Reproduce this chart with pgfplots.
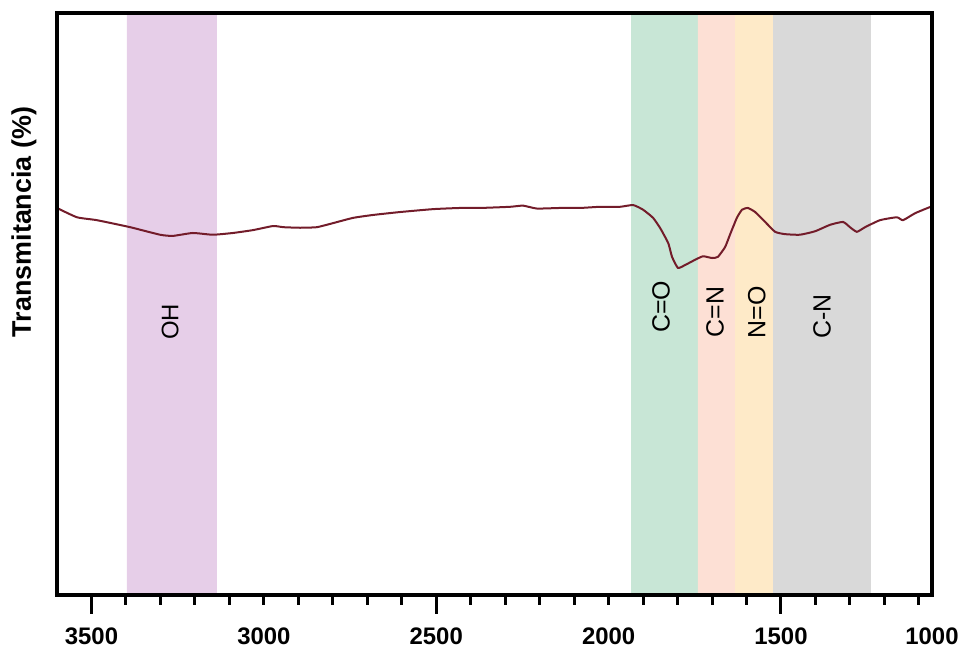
\documentclass[border=0pt]{standalone}
\usepackage{fontspec}
\setmainfont{Liberation Sans}
\usepackage{pgfplots}
\pgfplotsset{compat=1.18}
\definecolor{bandOH}{RGB}{230,206,232}
\definecolor{bandCO}{RGB}{200,230,214}
\definecolor{bandCN}{RGB}{253,224,213}
\definecolor{bandNO}{RGB}{254,234,200}
\definecolor{bandCsN}{RGB}{217,217,217}
\definecolor{spec}{RGB}{115,28,42}
\begin{document}
\begin{tikzpicture}
\path[use as bounding box] (0bp,0bp) rectangle (966bp,649bp);
\begin{axis}[
  at={(57bp,54bp)}, anchor=south west,
  scale only axis, width=875bp, height=582bp,
  x dir=reverse, xmin=1062, xmax=3600, ymin=0, ymax=100,
  axis on top,
  line width=3.2bp,
  axis line style={line width=3.2bp, black},
  ytick=\empty,
  xtick={3500,2500,1500},
  xticklabels={3500,2500,1500},
  xtick style={line width=3bp, black},
  major tick length=19bp,
  minor xtick={3400,3300,3200,3100,3000,2900,2800,2700,2600,2400,2300,2200,2100,2000,1900,1800,1700,1600,1400,1300,1200,1100},
  minor tick length=10bp,
  extra x ticks={3000,2000,1062},
  extra x tick labels={3000,2000,1000},
  extra x tick style={major tick length=19bp, major tick style={draw=none}},
  tick align=outside,
  xtick pos=bottom,
  xticklabel style={font=\fontsize{24}{24}\selectfont\bfseries, inner sep=0pt, yshift=-12bp},
  /pgf/number format/assume math mode=true,
]
\addplot[fill=bandOH, draw=none] coordinates {(3397,0) (3397,100) (3136,100) (3136,0)} \closedcycle;
\addplot[fill=bandCO, draw=none] coordinates {(1935,0) (1935,100) (1741,100) (1741,0)} \closedcycle;
\addplot[fill=bandCN, draw=none] coordinates {(1741,0) (1741,100) (1633,100) (1633,0)} \closedcycle;
\addplot[fill=bandNO, draw=none] coordinates {(1633,0) (1633,100) (1523,100) (1523,0)} \closedcycle;
\addplot[fill=bandCsN, draw=none] coordinates {(1523,0) (1523,100) (1239,100) (1239,0)} \closedcycle;
\addplot[spec, line width=2bp, smooth, tension=0.3] coordinates {
(3600,66.5) (3542,64.9) (3484,64.4) (3388,63.2) (3301,61.9) (3264,61.7) (3206,62.2)
(3148,61.9) (3090,62.2) (3031,62.7) (2973,63.4) (2944,63.2) (2895,63.1) (2846,63.2)
(2799,63.9) (2741,64.8) (2683,65.3) (2605,65.8) (2509,66.3) (2431,66.5) (2373,66.5)
(2286,66.7) (2248,66.9) (2208,66.4) (2141,66.5) (2083,66.5) (2025,66.7) (1967,66.7)
(1929,67.0) (1900,66.2) (1871,64.8) (1851,63.1) (1836,61.5) (1826,60.3) (1816,58.1)
(1799,56.2) (1778,56.7) (1749,57.6) (1726,58.2) (1700,57.9) (1683,58.1) (1662,59.8)
(1648,61.9) (1628,64.8) (1613,66.2) (1596,66.5) (1575,65.8) (1546,64.1) (1517,62.4)
(1488,62.0) (1445,61.9) (1401,62.5) (1358,63.6) (1320,64.1) (1300,63.2) (1280,62.4)
(1256,63.2) (1213,64.4) (1164,64.9) (1146,64.4) (1111,65.6) (1062,66.8)
};
\node[rotate=90, font=\fontsize{24}{24}\selectfont] at (axis cs:3272,46.9) {OH};
\node[rotate=90, font=\fontsize{25}{25}\selectfont] at (axis cs:1848,49.5) {C=O};
\node[rotate=90, font=\fontsize{25}{25}\selectfont] at (axis cs:1691,48.6) {C=N};
\node[rotate=90, font=\fontsize{25}{25}\selectfont] at (axis cs:1570,48.6) {N=O};
\node[rotate=90, font=\fontsize{25}{25}\selectfont] at (axis cs:1381,47.9) {C-N};
\end{axis}
\node[rotate=90, font=\fontsize{27}{27}\selectfont\bfseries] at (24bp,427bp) {Transmitancia (\%)};
\end{tikzpicture}
\end{document}
